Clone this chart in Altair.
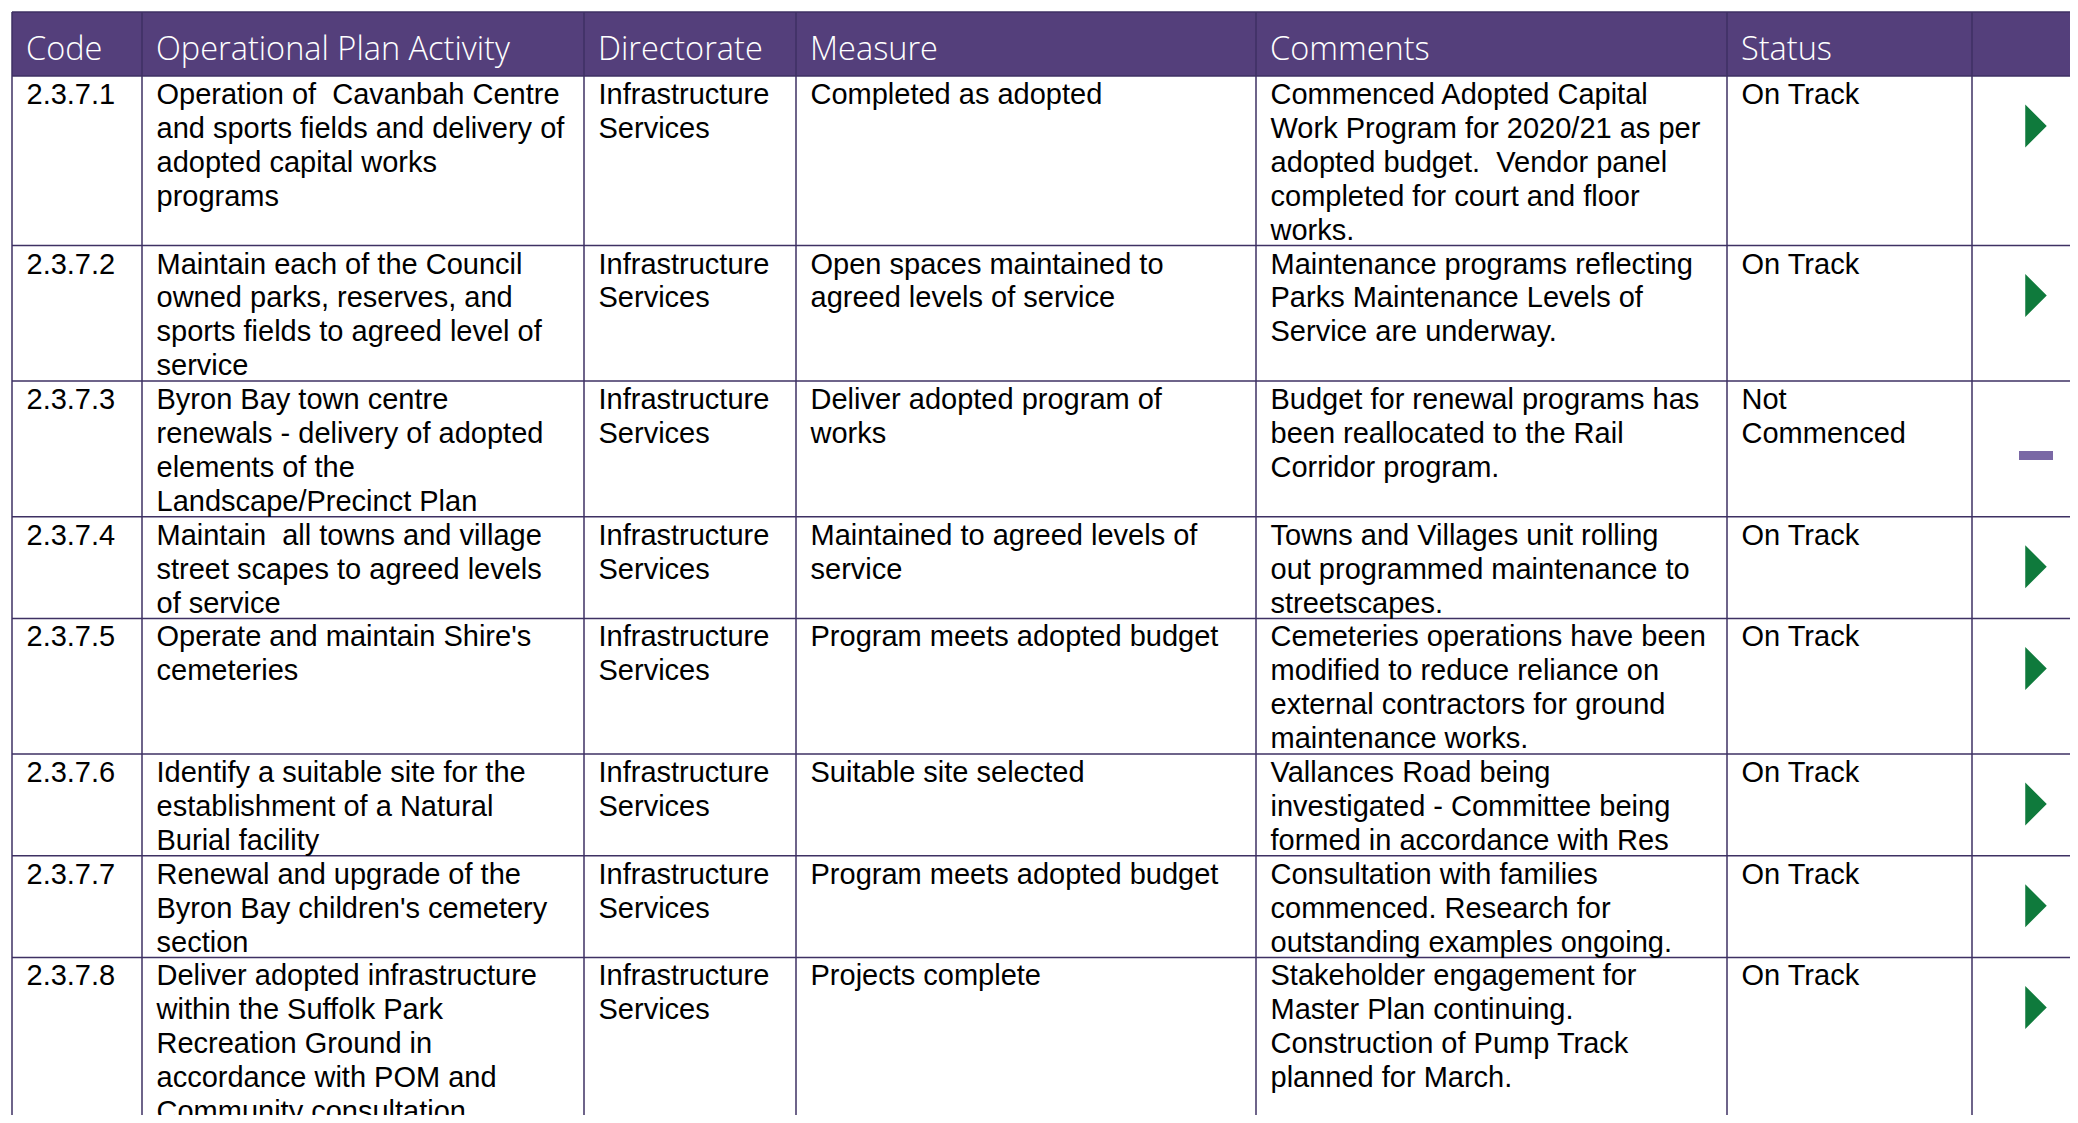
import altair as alt
import pandas as pd

# ---------------- data ----------------
headers = ["Code", "Operational Plan Activity", "Directorate", "Measure", "Comments", "Status"]

codes = ["2.3.7.1", "2.3.7.2", "2.3.7.3", "2.3.7.4", "2.3.7.5", "2.3.7.6", "2.3.7.7", "2.3.7.8"]

activities = [
    ["Operation of  Cavanbah Centre", "and sports fields and delivery of", "adopted capital works", "programs"],
    ["Maintain each of the Council", "owned parks, reserves, and", "sports fields to agreed level of", "service"],
    ["Byron Bay town centre", "renewals - delivery of adopted", "elements of the", "Landscape/Precinct Plan"],
    ["Maintain  all towns and village", "street scapes to agreed levels", "of service"],
    ["Operate and maintain Shire's", "cemeteries"],
    ["Identify a suitable site for the", "establishment of a Natural", "Burial facility"],
    ["Renewal and upgrade of the", "Byron Bay children's cemetery", "section"],
    ["Deliver adopted infrastructure", "within the Suffolk Park", "Recreation Ground in",
     "accordance with POM and", "Community consultation"],
]

directorates = [["Infrastructure", "Services"]] * 8

measures = [
    ["Completed as adopted"],
    ["Open spaces maintained to", "agreed levels of service"],
    ["Deliver adopted program of", "works"],
    ["Maintained to agreed levels of", "service"],
    ["Program meets adopted budget"],
    ["Suitable site selected"],
    ["Program meets adopted budget"],
    ["Projects complete"],
]

comments = [
    ["Commenced Adopted Capital", "Work Program for 2020/21 as per", "adopted budget.  Vendor panel",
     "completed for court and floor", "works."],
    ["Maintenance programs reflecting", "Parks Maintenance Levels of", "Service are underway."],
    ["Budget for renewal programs has", "been reallocated to the Rail", "Corridor program."],
    ["Towns and Villages unit rolling", "out programmed maintenance to", "streetscapes."],
    ["Cemeteries operations have been", "modified to reduce reliance on",
     "external contractors for ground", "maintenance works."],
    ["Vallances Road being", "investigated - Committee being", "formed in accordance with Res"],
    ["Consultation with families", "commenced. Research for", "outstanding examples ongoing."],
    ["Stakeholder engagement for", "Master Plan continuing.", "Construction of Pump Track",
     "planned for March."],
]

statuses = [["On Track"], ["On Track"], ["Not", "Commenced"], ["On Track"], ["On Track"],
            ["On Track"], ["On Track"], ["On Track"]]

# ---------------- layout (page pixels) ----------------
PAGE_W, PAGE_H, MARGIN = 2078, 1123, 8
col_edges = [12, 142, 584, 796, 1256, 1727, 1972, 2200]
table_top = 12
header_bottom = 76
line_h = 33.9
first_base = 28
text_pad = 14.5
head_pad = 14
header_base = 60
icon_cx = 2036
tri_dy = 50
dash_dy = 74.5
dash_half_w = 17
dash_half_h = 4.5

PURPLE = "#543F7B"
LINE = "#3E3163"
GREEN = "#0F7A3C"
DASH = "#7A68A5"


def keep_spaces(s):
    # keep doubled spaces visible in SVG text
    return s.replace("  ", " \u00a0")


# ---------------- build tables ----------------
columns = [[[c] for c in codes], activities, directorates, measures, comments, statuses]
n_rows = len(codes)
row_lines = [max(len(col[r]) for col in columns) for r in range(n_rows)]
row_tops = [header_bottom]
for r in range(n_rows):
    row_tops.append(row_tops[-1] + row_lines[r] * line_h)

body = []
for ci, col in enumerate(columns):
    for r in range(n_rows):
        for li, txt in enumerate(col[r]):
            body.append({"x": col_edges[ci] + text_pad,
                         "y": row_tops[r] + first_base + li * line_h,
                         "t": keep_spaces(txt)})
body_df = pd.DataFrame(body)

head_df = pd.DataFrame({"x": [col_edges[i] + head_pad for i in range(len(headers))],
                        "y": [header_base] * len(headers),
                        "t": headers})

header_rect = pd.DataFrame({"x": [col_edges[0]], "x2": [col_edges[-1]],
                            "y": [table_top], "y2": [header_bottom]})

hlines = pd.DataFrame({"y": row_tops[:-1] + [table_top],
                       "x": [col_edges[0]] * n_rows + [col_edges[0]],
                       "x2": [col_edges[-1]] * (n_rows + 1)})
hlines = hlines[hlines["y"] < PAGE_H]

vlines = pd.DataFrame({"x": col_edges[:-1],
                       "y": [table_top] * (len(col_edges) - 1),
                       "y2": [PAGE_H + 50] * (len(col_edges) - 1)})

tri_rows = [r for r in range(n_rows) if statuses[r] == ["On Track"]]
tri_df = pd.DataFrame({"x": [icon_cx for r in tri_rows],
                       "y": [row_tops[r] + tri_dy for r in tri_rows]})
dash_rows = [r for r in range(n_rows) if statuses[r] != ["On Track"]]
dash_df = pd.DataFrame({"x": [icon_cx - dash_half_w for r in dash_rows],
                        "x2": [icon_cx + dash_half_w for r in dash_rows],
                        "y": [row_tops[r] + dash_dy - dash_half_h for r in dash_rows],
                        "y2": [row_tops[r] + dash_dy + dash_half_h for r in dash_rows]})

# ---------------- scales ----------------
W = PAGE_W - 2 * MARGIN
H = PAGE_H - 2 * MARGIN
xs = alt.Scale(domain=[MARGIN, PAGE_W - MARGIN], nice=False, zero=False)
ys = alt.Scale(domain=[MARGIN, PAGE_H - MARGIN], nice=False, zero=False, reverse=True)

X = lambda f: alt.X(f"{f}:Q", scale=xs, axis=None)
Y = lambda f: alt.Y(f"{f}:Q", scale=ys, axis=None)

header_layer = alt.Chart(header_rect).mark_rect(color=PURPLE, clip=True).encode(
    x=X("x"), x2="x2", y=Y("y"), y2="y2")

hline_layer = alt.Chart(hlines).mark_rule(color=LINE, strokeWidth=1.5, clip=True).encode(
    x=X("x"), x2="x2", y=Y("y"))

vline_layer = alt.Chart(vlines).mark_rule(color=LINE, strokeWidth=1.5, clip=True).encode(
    x=X("x"), y=Y("y"), y2="y2")

head_text = alt.Chart(head_df).mark_text(
    align="left", baseline="alphabetic", font="Open Sans", fontSize=32.5, fontWeight=300,
    color="white").encode(x=X("x"), y=Y("y"), text="t:N")

body_text = alt.Chart(body_df).mark_text(
    align="left", baseline="alphabetic", font="Liberation Sans", fontSize=29,
    color="black", clip=True).encode(x=X("x"), y=Y("y"), text="t:N")

tri_layer = alt.Chart(tri_df).mark_point(
    shape="M-0.5,-1L0.5,0L-0.5,1Z", size=43 * 43, filled=True, color=GREEN,
    opacity=1, strokeWidth=0, clip=True).encode(x=X("x"), y=Y("y"))

dash_layer = alt.Chart(dash_df).mark_rect(color=DASH).encode(
    x=X("x"), x2="x2", y=Y("y"), y2="y2")

chart = alt.layer(header_layer, hline_layer, vline_layer, head_text, body_text,
                  tri_layer, dash_layer).properties(
    width=W, height=H, padding=0, autosize=alt.AutoSizeParams(type="none")
).configure_view(stroke=None)

chart.save("out.html", embed_options={"renderer": "svg", "actions": False})
